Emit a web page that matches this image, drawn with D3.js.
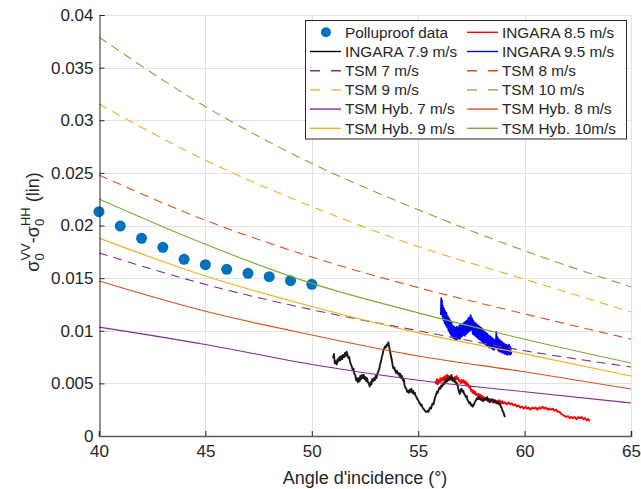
<!DOCTYPE html>
<html><head><meta charset="utf-8">
<script src="https://cdn.jsdelivr.net/npm/d3@7"></script>
<style>
html,body{margin:0;padding:0;background:#fff;}
text{font-family:"Liberation Sans",Arial,Helvetica,sans-serif;fill:#262626;}
</style></head>
<body><svg id="c" width="641" height="489"></svg>
<script>
// ---------- data ----------
const xTicks = [40,45,50,55,60,65];
const yTicks = [0,0.005,0.01,0.015,0.02,0.025,0.03,0.035,0.04];
const yTickLabels = ["0","0.005","0.01","0.015","0.02","0.025","0.03","0.035","0.04"];

const polluAngles = [40,41,42,43,44,45,46,47,48,49,50];
const polluValues = [0.02131,0.01995,0.01878,0.01793,0.01679,0.01628,0.01584,0.01546,0.01514,0.01476,0.01441];

const modelAngles = [40,45,50,55,60,65];
const tsm7  = [0.0174,0.0144,0.0120,0.0100,0.0081,0.00656];
const tsm8  = [0.0248,0.0205,0.0170,0.0141,0.0116,0.0092];
const tsm9  = [0.03154,0.0262,0.0218,0.0180,0.0149,0.01178];
const tsm10 = [0.0379,0.0313,0.0259,0.0215,0.0176,0.01416];
const hyb7  = [0.01035,0.0087,0.0068,0.0053,0.0042,0.00314];
const hyb8  = [0.01473,0.01185,0.0096,0.0076,0.0061,0.00447];
const hyb9  = [0.0188,0.0152,0.0123,0.0098,0.0078,0.0057];
const hyb10 = [0.02252,0.01821,0.0145,0.0117,0.0092,0.00694];

const ingara79 = [[51.00,.0074],[51.04,.0078],[51.08,.0069],[51.12,.0071],[51.17,.0068],[51.21,.0073],[51.25,.0071],[51.30,.0075],[51.34,.0072],[51.38,.0076],[51.43,.0073],[51.47,.0077],[51.52,.0075],[51.56,.0079],[51.60,.0076],[51.64,.0080],[51.68,.0077],[51.72,.0074],[51.76,.0075],[51.80,.0070],[51.84,.0068],[51.88,.0066],[51.92,.0063],[51.96,.0064],[52.00,.0059],[52.04,.0058],[52.08,.0053],[52.12,.0055],[52.16,.0051],[52.20,.0055],[52.24,.0052],[52.28,.0057],[52.32,.0054],[52.36,.0058],[52.40,.0055],[52.44,.0058],[52.48,.0054],[52.52,.0056],[52.56,.0052],[52.60,.0055],[52.64,.0051],[52.68,.0050],[52.72,.0047],[52.76,.0051],[52.80,.0049],[52.84,.0054],[52.88,.0052],[52.92,.0055],[52.96,.0053],[53.00,.0057],[53.04,.0055],[53.08,.0059],[53.12,.0061],[53.16,.0063],[53.20,.0067],[53.24,.0070],[53.28,.0074],[53.32,.0077],[53.36,.0081],[53.40,.0083],[53.44,.0085],[53.48,.0084],[53.52,.0087],[53.56,.0086],[53.60,.0089],[53.64,.0084],[53.68,.0080],[53.72,.0076],[53.76,.0072],[53.80,.0067],[53.84,.0064],[53.88,.0065],[53.92,.0062],[53.96,.0060],[54.00,.0062],[54.04,.0059],[54.08,.0060],[54.12,.0057],[54.16,.0059],[54.20,.0055],[54.24,.0057],[54.28,.0053],[54.32,.0054],[54.36,.0048],[54.40,.0046],[54.44,.0045],[54.48,.0042],[54.52,.0043],[54.56,.0041],[54.60,.0044],[54.64,.0042],[54.68,.0045],[54.72,.0041],[54.76,.0043],[54.80,.0040],[54.84,.0041],[54.88,.0038],[54.92,.0037],[54.96,.0035],[55.00,.0034],[55.04,.0032],[55.08,.0031],[55.12,.0029],[55.16,.0030],[55.20,.0027],[55.24,.0026],[55.28,.0025],[55.32,.0024],[55.36,.0023],[55.40,.0023],[55.44,.0024],[55.48,.0023],[55.52,.0025],[55.56,.0027],[55.60,.0026],[55.64,.0029],[55.68,.0031],[55.72,.0030],[55.76,.0034],[55.80,.0037],[55.84,.0039],[55.88,.0042],[55.92,.0041],[55.96,.0044],[56.00,.0046],[56.04,.0045],[56.08,.0048],[56.12,.0047],[56.16,.0050],[56.20,.0049],[56.24,.0052],[56.28,.0050],[56.32,.0054],[56.36,.0052],[56.40,.0055],[56.44,.0053],[56.48,.0056],[56.52,.0054],[56.56,.0058],[56.60,.0055],[56.64,.0053],[56.68,.0055],[56.72,.0051],[56.76,.0052],[56.80,.0049],[56.84,.0050],[56.88,.0045],[56.92,.0042],[56.96,.0040],[57.00,.0044],[57.04,.0045],[57.08,.0042],[57.12,.0043],[57.16,.0040],[57.20,.0039],[57.24,.0037],[57.28,.0038],[57.32,.0034],[57.36,.0033],[57.40,.0031],[57.44,.0032],[57.48,.0029],[57.52,.0030],[57.56,.0028],[57.60,.0029],[57.64,.0031],[57.68,.0033],[57.72,.0034],[57.76,.0036],[57.80,.0035],[57.84,.0037],[57.88,.0035],[57.92,.0036],[57.96,.0034],[58.00,.0035],[58.04,.0033],[58.08,.0035],[58.12,.0034],[58.16,.0036],[58.20,.0035],[58.24,.0037],[58.28,.0034],[58.32,.0035],[58.36,.0032],[58.40,.0034],[58.44,.0033],[58.48,.0035],[58.52,.0034],[58.56,.0032],[58.60,.0034],[58.64,.0032],[58.68,.0033],[58.72,.0031],[58.76,.0032],[58.80,.0030],[58.84,.0031],[58.88,.0028],[58.92,.0027],[58.96,.0024],[59.00,.0023],[59.04,.0020],[59.08,.0018]];

const ingara85 = [[55.80,.0052],[55.84,.0050],[55.88,.0054],[55.92,.0049],[55.96,.0053],[56.00,.0051],[56.04,.0055],[56.08,.0052],[56.12,.0055],[56.16,.0053],[56.20,.0056],[56.24,.0054],[56.28,.0057],[56.32,.0055],[56.36,.0058],[56.40,.0055],[56.44,.0057],[56.48,.0054],[56.52,.0056],[56.56,.0053],[56.60,.0055],[56.64,.0052],[56.68,.0054],[56.72,.0056],[56.76,.0054],[56.80,.0057],[56.84,.0054],[56.88,.0055],[56.92,.0052],[56.96,.0053],[57.00,.0050],[57.04,.0053],[57.08,.0051],[57.12,.0053],[57.16,.0050],[57.20,.0052],[57.24,.0049],[57.28,.0051],[57.32,.0048],[57.36,.0049],[57.40,.0046],[57.44,.0047],[57.48,.0043],[57.52,.0044],[57.56,.0041],[57.60,.0043],[57.64,.0040],[57.68,.0042],[57.72,.0039],[57.76,.0040],[57.80,.0038],[57.84,.0040],[57.88,.0037],[57.92,.0039],[57.96,.0036],[58.00,.0038],[58.04,.0035],[58.08,.0037],[58.12,.0035],[58.16,.0036],[58.20,.0034],[58.24,.0035],[58.28,.0033],[58.32,.0035],[58.36,.0033],[58.40,.0035],[58.44,.0033],[58.48,.0034],[58.52,.0032],[58.56,.0034],[58.60,.0032],[58.64,.0033],[58.68,.0031],[58.72,.0033],[58.76,.0032],[58.80,.0034],[58.84,.0032],[58.88,.0033],[58.92,.0031],[58.96,.0033],[59.00,.0031],[59.08,.0032],[59.16,.0030],[59.24,.0032],[59.32,.0030],[59.40,.0031],[59.48,.0029],[59.56,.0030],[59.64,.0028],[59.72,.0029],[59.80,.0027],[59.88,.0028],[59.96,.0026],[60.04,.0028],[60.12,.0026],[60.20,.0027],[60.28,.0025],[60.36,.0027],[60.44,.0026],[60.52,.0027],[60.60,.0025],[60.68,.0027],[60.76,.0026],[60.84,.0028],[60.92,.0026],[61.00,.0027],[61.08,.0025],[61.16,.0026],[61.24,.0025],[61.32,.0026],[61.40,.0024],[61.48,.0025],[61.56,.0023],[61.64,.0023],[61.72,.0021],[61.80,.0020],[61.88,.0019],[61.96,.0018],[62.04,.0019],[62.12,.0017],[62.20,.0018],[62.28,.0017],[62.36,.0018],[62.44,.0016],[62.52,.0018],[62.60,.0017],[62.68,.0018],[62.76,.0016],[62.84,.0017],[62.92,.0015],[63.00,.0016],[63.06,.0014]];

const ingara95 = [[56.06,.0115],[56.08,.0131],[56.10,.0122],[56.12,.0129],[56.14,.0113],[56.16,.0124],[56.18,.0110],[56.21,.0121],[56.24,.0107],[56.27,.0119],[56.30,.0105],[56.33,.0117],[56.36,.0103],[56.39,.0114],[56.42,.0100],[56.45,.0112],[56.48,.0098],[56.51,.0110],[56.54,.0096],[56.57,.0108],[56.60,.0094],[56.63,.0105],[56.66,.0093],[56.69,.0104],[56.72,.0092],[56.75,.0103],[56.78,.0091],[56.81,.0104],[56.84,.0092],[56.87,.0103],[56.90,.0093],[56.93,.0105],[56.96,.0092],[56.99,.0106],[57.02,.0094],[57.05,.0105],[57.08,.0095],[57.11,.0107],[57.14,.0096],[57.17,.0108],[57.20,.0095],[57.23,.0109],[57.26,.0097],[57.29,.0110],[57.32,.0098],[57.35,.0112],[57.38,.0099],[57.41,.0113],[57.44,.0100],[57.47,.0115],[57.50,.0101],[57.53,.0112],[57.56,.0097],[57.59,.0110],[57.62,.0096],[57.65,.0108],[57.68,.0095],[57.71,.0107],[57.74,.0094],[57.77,.0106],[57.80,.0093],[57.83,.0105],[57.86,.0092],[57.89,.0104],[57.92,.0091],[57.95,.0103],[57.98,.0090],[58.01,.0102],[58.04,.0089],[58.07,.0100],[58.10,.0088],[58.13,.0099],[58.16,.0087],[58.19,.0098],[58.22,.0086],[58.25,.0097],[58.28,.0085],[58.31,.0096],[58.34,.0084],[58.37,.0095],[58.40,.0084],[58.43,.0094],[58.46,.0083],[58.49,.0093],[58.52,.0082],[58.55,.0092],[58.58,.0082],[58.61,.0091],[58.64,.0084],[58.67,.0099],[58.70,.0083],[58.73,.0094],[58.76,.0081],[58.79,.0092],[58.82,.0080],[58.85,.0091],[58.88,.0080],[58.91,.0090],[58.94,.0079],[58.97,.0089],[59.00,.0079],[59.03,.0088],[59.06,.0078],[59.09,.0087],[59.12,.0078],[59.15,.0087],[59.18,.0077],[59.21,.0086],[59.24,.0078],[59.27,.0087],[59.30,.0077],[59.33,.0085],[59.36,.0078],[59.39,.0080]];

const legendLabels = ["Polluproof data","INGARA 8.5 m/s","INGARA 7.9 m/s","INGARA 9.5 m/s","TSM 7 m/s","TSM 8 m/s","TSM 9 m/s","TSM 10 m/s","TSM Hyb. 7 m/s","TSM Hyb. 8 m/s","TSM Hyb. 9 m/s","TSM Hyb. 10m/s"];
const xLabel = "Angle d'incidence (°)";

// ---------- styles ----------
const C = {blue:"#0072BD", purple:"#7E2F8E", orange:"#D95319", yellow:"#EDB120", green:"#77AC30"};
const DASH = "9,6";

// ---------- chart ----------
const svg = d3.select("#c");
const L=99, R=631, T=15, B=436;
const x = d3.scaleLinear().domain([40,65]).range([L,R]);
const y = d3.scaleLinear().domain([0,0.04]).range([B,T]);

// grid
const grid = svg.append("g").attr("stroke","#e3e3e3").attr("stroke-width",1);
grid.selectAll("line.v").data(xTicks.slice(1)).join("line")
  .attr("x1",d=>Math.round(x(d))+0.5).attr("x2",d=>Math.round(x(d))+0.5).attr("y1",T).attr("y2",B);
grid.selectAll("line.h").data(yTicks.slice(1)).join("line")
  .attr("y1",d=>Math.round(y(d))+0.5).attr("y2",d=>Math.round(y(d))+0.5).attr("x1",L).attr("x2",R);

const plot = svg.append("g");
const lineXY = d3.line().x(d=>x(d[0])).y(d=>y(d[1]));
const lineModel = d3.line().x(d=>x(d[0])).y(d=>y(d[1])).curve(d3.curveMonotoneX);

// polluproof dots
plot.selectAll("circle.p").data(d3.zip(polluAngles,polluValues)).join("circle")
  .attr("cx",d=>x(d[0])).attr("cy",d=>y(d[1])).attr("r",5.5).attr("fill",C.blue);

// INGARA
const ing = [[ingara85,"#FF0000",1.9],[ingara79,"#1a1a1a",1.9],[ingara95,"#0000FF",1.6]];
ing.forEach(([data,col,w])=>{
  plot.append("path").datum(data).attr("d",lineXY).attr("fill","none")
    .attr("stroke",col).attr("stroke-width",w).attr("stroke-linejoin","round");
});

// models
const models = [
  [tsm7,C.purple,true],[tsm8,C.orange,true],[tsm9,C.yellow,true],[tsm10,C.green,true],
  [hyb7,C.purple,false],[hyb8,C.orange,false],[hyb9,C.yellow,false],[hyb10,C.green,false]];
models.forEach(([vals,col,dash])=>{
  plot.append("path").datum(d3.zip(modelAngles,vals)).attr("d",lineModel).attr("fill","none")
    .attr("stroke",col).attr("stroke-width",1.1).attr("stroke-dasharray",dash?DASH:null);
});

// axes
const axCol = "#262626";
const yAxis = d3.axisLeft(y).tickValues(yTicks).tickFormat((d,i)=>yTickLabels[i]).tickSize(-5).tickPadding(6);
const gy = svg.append("g").attr("transform",`translate(${L+0.5},0)`).call(yAxis);
const xAxis = d3.axisBottom(x).tickValues(xTicks).tickFormat(d3.format("d")).tickSize(-5).tickPadding(9);
const gx = svg.append("g").attr("transform",`translate(0,${B})`).call(xAxis);
[gx,gy].forEach(g=>{
  g.select(".domain").attr("stroke",axCol).attr("stroke-width",1);
  g.selectAll(".tick line").attr("stroke",axCol);
  g.selectAll(".tick text").attr("fill",axCol).style("font-size","17px").style("font-family","Liberation Sans, Arial, sans-serif");
});
gx.select(".domain").attr("stroke","#5a5a5a").attr("stroke-width",1.6);

// x label
svg.append("text").attr("x",(L+R)/2).attr("y",484).attr("text-anchor","middle")
  .style("font-size","18px").text(xLabel);

// y label
const yl = svg.append("text").attr("transform","translate(39,222) rotate(-90)")
  .attr("text-anchor","middle").style("font-size","18px");
yl.append("tspan").text("σ");
yl.append("tspan").attr("dy",5).style("font-size","13px").text("0");
yl.append("tspan").attr("dx",-7.2).attr("dy",-14).style("font-size","13px").text("VV");
yl.append("tspan").attr("dy",9).text("-σ");
yl.append("tspan").attr("dy",5).style("font-size","13px").text("0");
yl.append("tspan").attr("dx",-7.2).attr("dy",-14).style("font-size","13px").text("HH");
yl.append("tspan").attr("dy",9).text(" (lin)");

// legend
const lg = svg.append("g");
lg.append("rect").attr("x",305.5).attr("y",20.5).attr("width",321).attr("height",118.5)
  .attr("fill","#fff").attr("stroke","#262626").attr("stroke-width",1);
const legendStyles = [
  {dot:true,col:C.blue},{col:"#FF0000"},{col:"#000000"},{col:"#0000FF"},
  {col:C.purple,dash:true},{col:C.orange,dash:true},{col:C.yellow,dash:true},{col:C.green,dash:true},
  {col:C.purple},{col:C.orange},{col:C.yellow},{col:C.green}];
legendLabels.forEach((lab,i)=>{
  const col = i%2, row = Math.floor(i/2);
  const x0 = col===0 ? 310 : 467;
  const yc = 32.3 + row*19.2;
  const st = legendStyles[i];
  if(st.dot){
    lg.append("circle").attr("cx",x0+16).attr("cy",yc).attr("r",5).attr("fill",st.col);
  } else {
    lg.append("line").attr("x1",x0).attr("x2",x0+31).attr("y1",yc).attr("y2",yc)
      .attr("stroke",st.col).attr("stroke-width",1.4).attr("stroke-dasharray",st.dash?"10,11":null);
  }
  lg.append("text").attr("x",x0+35).attr("y",yc+5.3).style("font-size","15.3px").text(lab);
});
</script></body></html>
